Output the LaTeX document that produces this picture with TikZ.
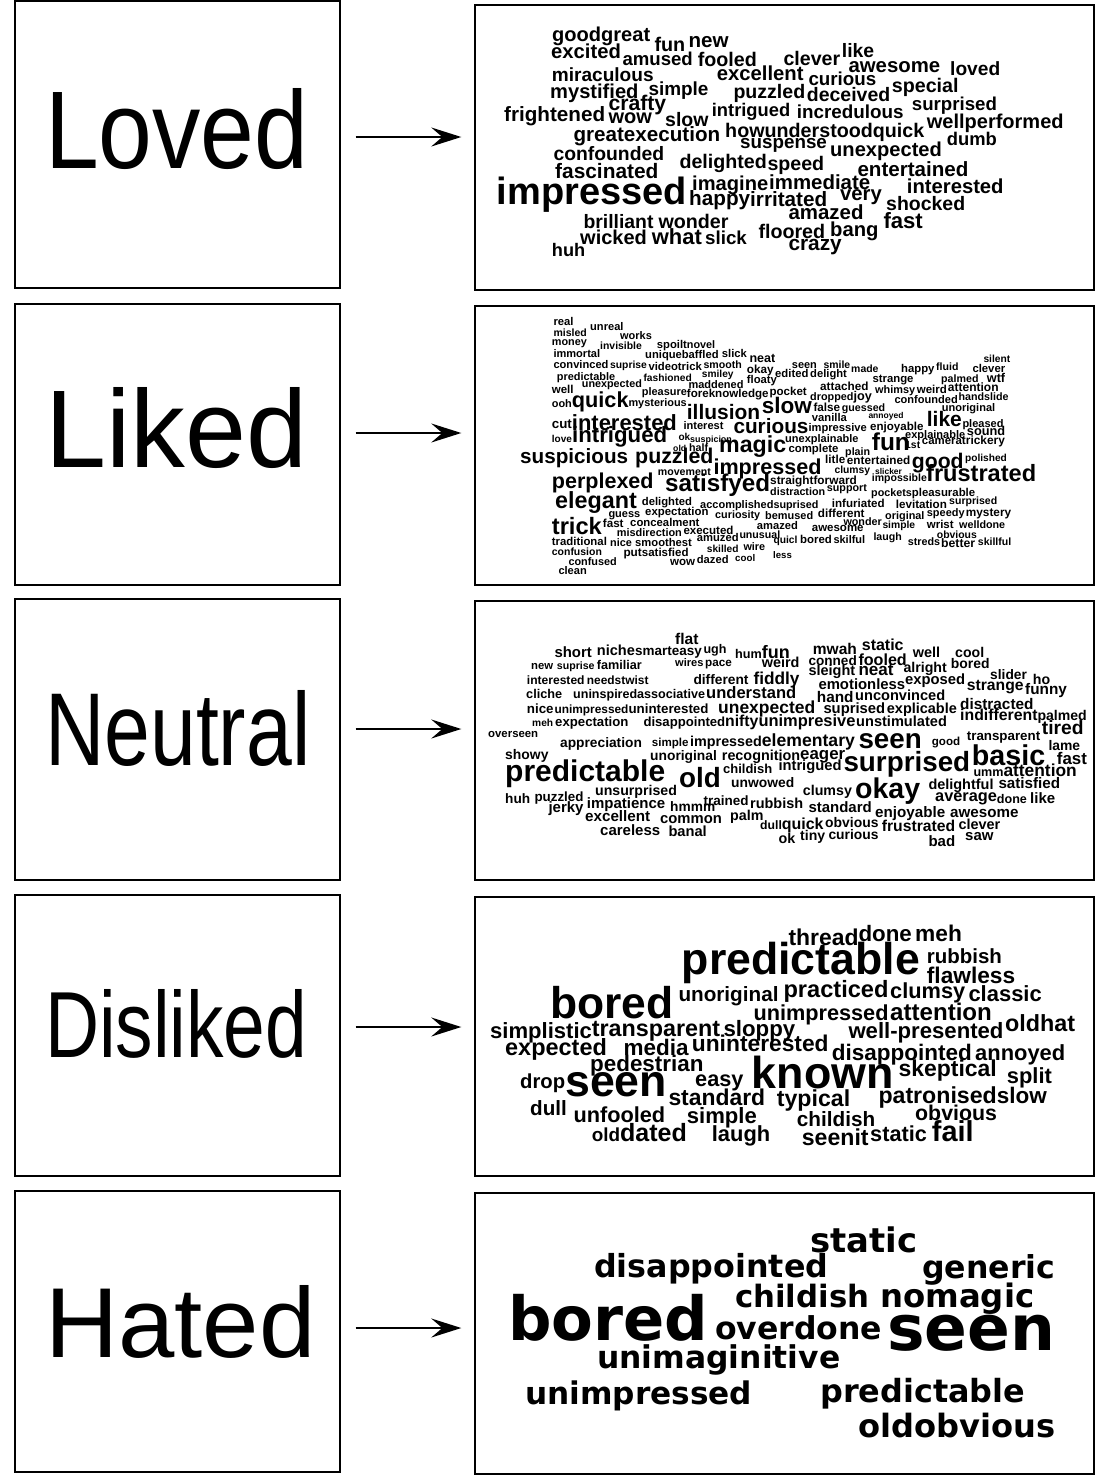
\documentclass[tikz,border=0pt]{standalone}
\usepackage{fontspec}
\setmainfont{Liberation Sans}
\newfontfamily\hatedfont{DejaVu Sans}
\usetikzlibrary{arrows.meta}

\begin{document}
\begin{tikzpicture}[
    x=1pt, y=-1pt,
    sidebox/.style={rectangle, draw, line width=1.4pt, minimum width=325pt, inner sep=0pt},
    cloudbox/.style={rectangle, draw, line width=1.4pt, minimum width=619pt, inner sep=0pt},
    sidelabel/.style={anchor=base west, inner sep=0pt},
    cloudword/.style={anchor=base west, inner sep=0pt, font=\bfseries},
    pointer/.style={-{Stealth[length=30pt, width=19pt, inset=11pt]}, line width=2pt, shorten <=15pt, shorten >=13pt}
]
\useasboundingbox (0,0) rectangle (1097,1478);
\fill[white] (0,0) rectangle (1097,1478);

% left boxes with the ratings
\node[sidebox, minimum height=287pt] (loved) at (177.5,144.5) {};
\node[sidebox, minimum height=281pt] (liked) at (177.5,444.5) {};
\node[sidebox, minimum height=281pt] (neutral) at (177.5,739.5) {};
\node[sidebox, minimum height=281pt] (disliked) at (177.5,1035.5) {};
\node[sidebox, minimum height=281pt] (hated) at (177.5,1331.5) {};

\node[sidelabel] (loved-label) at (45,168) {\resizebox{263pt}{80pt}{Loved}};
\node[sidelabel] (liked-label) at (45,467) {\resizebox{262pt}{80pt}{Liked}};
\node[sidelabel] (neutral-label) at (45,765) {\resizebox{265pt}{75pt}{Neutral}};
\node[sidelabel] (disliked-label) at (45,1057) {\resizebox{262pt}{68pt}{Disliked}};
\node[sidelabel] (hated-label) at (45,1357) {\resizebox{270pt}{72pt}{Hated}};

% right boxes with the word clouds
\node[cloudbox, minimum height=285pt] (lovedcloud) at (784.5,147.5) {};
\node[cloudbox, minimum height=279pt] (likedcloud) at (784.5,445.5) {};
\node[cloudbox, minimum height=279pt] (neutralcloud) at (784.5,740.5) {};
\node[cloudbox, minimum height=279pt] (dislikedcloud) at (784.5,1036.5) {};
\node[cloudbox, minimum height=281pt] (hatedcloud) at (784.5,1333.5) {};

% arrows
\foreach \src/\shift in {loved/7.5, liked/11.5, neutral/10.5, disliked/8.5, hated/3.5}
    \draw[pointer] ([yshift=\shift pt]\src.east) -- ([yshift=\shift pt]\src.east -| \src cloud.west);

% Loved
\foreach \x/\y/\wid/\word in {
    552/41.7/49/good, 601/41.7/49/great, 654.3/51.7/30.7/fun, 688.3/47.3/40/new,
    551/58.3/69.7/excited, 622.3/65/70.3/amused, 697.7/66.7/59/fooled, 783.3/65/56.7/clever,
    841.7/57.3/32.3/like, 848.3/72.3/91.7/awesome, 950/75/50/loved, 551.7/81.7/101.7/miraculous,
    716.7/80/86.7/excellent, 808.3/85/67.7/curious, 891.7/92.7/66.7/special, 550/98.3/88.3/mystified,
    648.3/95/60/simple, 733.3/98/71.7/puzzled, 806.7/101.7/83.3/deceived, 911.7/110.7/85/surprised,
    504/121.7/101/frightened, 608.3/110.7/57.7/crafty, 608.3/123.3/43.3/wow, 665/126/43.3/slow,
    711.7/116.7/78.3/intrigued, 796.7/118.3/106.7/incredulous, 926.7/128.3/136.7/wellperformed,
    573.3/141.7/146.7/greatexecution, 725/137.3/39.4/how, 764.4/137.3/108.3/understood, 872.7/137.3/51.4/quick,
    946.7/145/50/dumb, 740/148.3/86.7/suspense, 830/156.7/111.7/unexpected, 553.3/160/110.7/confounded,
    679.3/168.3/87.4/delighted, 767.3/170/56.7/speed, 857.3/176/111/entertained, 555/178.3/103.3/fascinated,
    692/190/76/imagine, 769/189/101/immediate, 906.7/193.3/96.7/interested, 496.7/204.3/190/impressed,
    689/205/61/happy, 750/206/77/irritated, 840/200/41.7/very, 886/210/79/shocked,
    788.3/219.3/75/amazed, 583.3/228.3/70/brilliant, 658.3/228.3/70/wonder, 883.3/228.3/39.3/fast,
    580/244/66.7/wicked, 651.7/244/50/what, 705/244/41.7/slick, 758.3/238.3/66.7/floored,
    830/236.7/48.3/bang, 788.3/250/53.3/crazy, 551.7/256.7/33.3/huh}
    \node[cloudword] (loved-\word) at (\x,\y) {\resizebox{\wid pt}{!}{\word}};

% Liked
\foreach \x/\y/\wid/\word in {
    553.3/325.3/20/real, 553.3/336/33.3/misled, 590/330.3/33.3/unreal, 551.7/345.3/35/money,
    620/339.7/31.7/works, 600/349.3/41.7/invisible, 656.7/348/30/spoilt, 686.7/348/28.3/novel,
    553.3/357/46.7/immortal, 645/358/36.7/unique, 681.7/358/36.7/baffled, 721.7/357/25/slick,
    749.3/362/25.7/neat, 553.3/368/55/convinced, 610/368/36.7/suprise, 648.3/370.3/53.3/videotrick,
    703.3/368/38.3/smooth, 746.7/373.7/26.7/okay, 775/377/33.3/edited, 556.7/380.3/58.3/predictable,
    643.3/381.3/48.3/fashioned, 701.7/377/31.7/smiley, 746.7/383.7/30/floaty, 581.7/387/60/unexpected,
    688.3/388/55/maddened, 551.7/393.7/21.7/well, 641.7/395.3/45/pleasure, 686.7/397/81.7/foreknowledge,
    769.3/395.3/37.3/pocket, 551.7/407/20/ooh, 571.7/407/56.7/quick, 628.3/406/58.3/mysterious,
    686.7/419.3/73.3/illusion, 761.7/413.7/50/slow, 551.7/428.7/20/cut, 571.7/430.3/105/interested,
    683.3/429.3/40/interest, 733.3/433.7/75/curious, 551.7/442.7/20/love, 572/442.7/95/intrigued,
    678.3/440.3/11.7/ok, 690/442/41.7/suspicion, 673/451.5/13/old, 689/451.5/19/half, 719/452/67/magic,
    983.3/362.7/26.7/silent, 791.7/368/25/seen, 823.3/368/26.7/smile, 851/372.7/27.3/made,
    901/372/33.3/happy, 936/370.3/22.3/fluid, 972.3/372/32.7/clever, 810/377/36.7/delight,
    872.3/382/41/strange, 941/382/37.3/palmed, 986.7/382/18.3/wtf, 820/390.3/48.3/attached,
    875/393.7/40/whimsy, 916.7/393.7/30/weird, 947.7/391.3/50.7/attention, 810/400.3/43.3/dropped,
    853.3/400.3/18.3/joy, 894.3/403.7/63.3/confounded, 958.3/400.3/50/handslide, 813.3/411.3/26.7/false,
    841.7/411.3/43.3/guessed, 941.7/411.3/53.3/unoriginal, 811.7/421.3/35/vanilla, 868.3/418/35/annoyed,
    926.7/426/35/like, 962.3/427/41/pleased, 808.3/431.3/58.3/impressive, 870/430.3/53.3/enjoyable,
    905/438/60/explainable, 966.7/435.3/38.3/sound, 785/442/73.3/unexplainable, 871.7/450/38/fun,
    905/448.7/15/1st, 921.7/444.7/40/camera, 961.7/444.7/43/trickery, 788.3/452.3/50/complete,
    845/455/25/plain, 825/463.3/20/litle, 846.7/464.3/63.3/entertained, 911.7/468.3/51.7/good,
    965/461.7/41.7/polished, 834.3/473.3/35.7/clumsy, 875/474.3/26.7/slicker, 871.7/481.7/55/impossible,
    926/481/110/frustrated, 520/463.3/108/suspicious, 635/463.3/78.3/puzzled, 657.7/475.5/53/movement,
    713.3/474/108/impressed, 551.7/488.3/101.7/perplexed, 665/491.7/105/satisfyed,
    770/484.3/86.7/straightforward, 770/495/55/distraction, 826.7/491.7/40/support, 871/496.7/40.7/pockets,
    911.7/496.7/63.3/pleasurable, 555/508.3/81.7/elegant, 641.7/505/50/delighted, 700/508.3/73.3/accomplished,
    773.3/508.3/45/suprised, 831.7/507.7/52.7/infuriated, 895.7/508.3/51/levitation, 949/504.3/48/surprised,
    608.3/517.7/31.7/guess, 645/515.7/63.3/expectation, 715/518.3/45/curiosity, 765/519/48/bemused,
    817.7/517.7/46.7/different, 885/519/39.3/original, 926.7/516.7/37.7/speedy, 965.7/516.7/45.3/mystery,
    551.7/534.3/50/trick, 602.7/527.7/20.7/fast, 630/526.7/69.3/concealment, 756.7/529/41/amazed,
    811.7/531.7/51.7/awesome, 843.3/525/38.3/wonder, 882.3/528.3/32.7/simple, 926.7/528.3/26.7/wrist,
    959/528.3/46/welldone, 616.7/536.7/65/misdirection, 683.3/534.3/50/executed, 739.3/538.3/40.7/unusual,
    551.7/545/55/traditional, 610/546.7/21.7/nice, 635/546.7/56.7/smoothest, 696.7/541.7/41.7/amuzed,
    773.3/543.3/24/quicl, 800/543.3/31.7/bored, 833.3/543.3/31.7/skilful, 873.3/540/28.3/laugh,
    936.7/538.3/40/obvious, 907.7/545.7/32.3/streds, 941/547.7/34/better, 977.7/545/33.3/skillful,
    551.7/555.7/50/confusion, 623.3/556.7/18.3/put, 641.7/556.7/46.7/satisfied, 706.7/552.3/31.7/skilled,
    743.3/550/21.7/wire, 773/558.3/18.7/less, 568.3/565.7/48.3/confused, 670/565.7/25/wow,
    696.7/563.3/31.7/dazed, 735/561.7/20/cool, 558.3/574.3/28.3/clean}
    \node[cloudword] (liked-\word) at (\x,\y) {\resizebox{\wid pt}{!}{\word}};

% Neutral
\foreach \x/\y/\wid/\word in {
    675/644/23.3/flat, 554.3/657/37.3/short, 596.7/655/38/niche, 635/655/36.7/smart,
    671.7/655/30/easy, 703.3/653/23/ugh, 735/658/26.7/hum, 761.7/658/28/fun,
    812.7/654/44/mwah, 861.7/650/41.7/static, 912.7/657/27.3/well, 955/657/29/cool,
    531/669/22/new, 556.7/669/37.7/suprise, 596.7/669/45/familiar, 675/666/28.3/wires,
    705/666/26.7/pace, 761.7/667/37.6/weird, 808.3/665/48.3/conned, 858.3/665/48.3/fooled,
    950.7/668/38.7/bored, 526.7/684/57.7/interested, 586.7/684/34.4/needs, 621.1/684/27.2/twist,
    693.3/684/55/different, 753.3/684/46/fiddly, 808.3/675/46.7/sleight, 858.3/675/35/neat,
    903.3/672/43.3/alright, 990/679/36.7/slider, 1032.7/684/17.3/ho, 526/698/36/cliche,
    573/698/64/uninspired, 637/698/68/associative, 706/698/90/understand, 818.3/689/86.7/emotionless,
    905/684/60/exposed, 966.7/690/56.7/strange, 1025/694/41.7/funny, 816.7/702/36.7/hand,
    855/700/90/unconvinced, 960/709/73.3/distracted, 526.7/713/26.7/nice, 554.3/713/74/unimpressed,
    628.3/713/80/uninterested, 718/713/97/unexpected, 823.3/713/61.7/suprised, 886.7/713/70/explicable,
    532/726/21/meh, 555/726/73.3/expectation, 643.3/726/81.7/disappointed, 725/726/33.3/nifty,
    758.3/726/97/unimpresive, 856/726/90.7/unstimulated, 960/720/77.3/indifferent, 1037.3/720/49.3/palmed,
    488/737/50/overseen, 560/747/81.7/appreciation, 651.7/746/36.7/simple, 690/746/71.7/impressed,
    761.7/746/93/elementary, 858.3/748/63.3/seen, 931.7/745/28.3/good, 966.7/740/73.3/transparent,
    1041.7/734/41.7/tired, 505/759/43.3/showy, 505/781/160/predictable, 650/760/66.7/unoriginal,
    721.7/760/78.3/recognition, 800/759/45/eager, 679/787/41.7/old, 723/773.5/49/childish,
    778.3/770.5/63/intrigued, 731/787/63/unwowed, 843.3/771/126.7/surprised, 971.7/765/73.3/basic,
    1048.3/750/31.7/lame, 1056.7/764/30/fast, 973.3/776/30/umm, 1003.3/776/73.3/attention,
    505/803.3/25/huh, 534.3/801/49/puzzled, 595/795/81.7/unsurprised, 548.3/812/35/jerky,
    586.7/808.3/78.3/impatience, 703.3/805/45/trained, 750/808.3/53/rubbish, 670/811.7/45/hmmm,
    585/821.7/65/excellent, 660/823.3/61.7/common, 730/820/33.3/palm, 600/835/60/careless,
    668.3/836.7/38.3/banal, 760/829/21.7/dull, 781.7/829/41.7/quick, 778.3/843.3/16.7/ok,
    800/840/25/tiny, 828.3/839.3/50/curious, 855/798.3/65/okay, 802.7/795/49/clumsy,
    928.3/789.3/65/delightful, 998.3/788.3/61.7/satisfied, 935/801.7/61.7/average, 996.7/803.3/30/done,
    1030/803.3/25/like, 808.3/812.7/63.3/standard, 875/817.3/70/enjoyable, 950/817.3/68.3/awesome,
    825/827.3/53.3/obvious, 881.7/831.7/73.3/frustrated, 958.3/829.3/41.7/clever, 965/840/28.3/saw,
    928.3/846.7/26.7/bad}
    \node[cloudword] (neutral-\word) at (\x,\y) {\resizebox{\wid pt}{!}{\word}};

% Disliked
\foreach \x/\y/\wid/\word in {
    681.7/974/238/predictable, 550/1018.3/123.3/bored, 678.3/1001.7/100/unoriginal, 783.3/997/105/practiced,
    890/998.3/75/clumsy, 788.3/945/70/thread, 858.3/941.7/53.3/done, 915/941.7/46.7/meh,
    926.7/963.3/75/rubbish, 926.7/983.3/88.3/flawless, 968.3/1001.7/73.3/classic, 753.3/1020/135/unimpressed,
    890/1020/101.7/attention, 490/1038.3/101.7/simplistic, 591.7/1036.7/128.3/transparent, 723.3/1036.7/71.7/sloppy,
    848.3/1038.3/155/well-presented, 1005/1031.7/70/oldhat, 505/1055/101.7/expected, 623.3/1055/65/media,
    691.7/1051.7/136.7/uninterested, 831.7/1060/140/disappointed, 975/1060/90/annoyed, 590/1071.7/113.3/pedestrian,
    520/1088.3/45/drop, 565/1096.7/101.7/seen, 695/1086.7/48.3/easy, 751.7/1088.3/141.7/known,
    898.3/1076.7/98.3/skeptical, 1006.7/1083.3/45/split, 668.3/1105/96.7/standard, 776.7/1106.7/73.3/typical,
    878.3/1103.3/118.3/patronised, 996.7/1103.3/50/slow, 530/1115/36.7/dull, 573.3/1122.7/91.7/unfooled,
    686.7/1123.3/70/simple, 796.7/1126.7/78.3/childish, 915/1120/81.7/obvious, 591.7/1141.7/28.3/old,
    620/1141.7/66.7/dated, 711.7/1141.7/58.3/laugh, 801.7/1145/66.7/seenit, 870/1141.7/56.7/static,
    931.7/1141.7/41.7/fail}
    \node[cloudword] (disliked-\word) at (\x,\y) {\resizebox{\wid pt}{!}{\word}};

% Hated
\foreach \x/\y/\wid/\word in {
    810/1252/107/static, 594/1277/234/disappointed, 922/1278/133/generic, 735/1307/134/childish,
    880/1307/154/nomagic, 508/1340/200/bored, 715/1339/167/overdone, 887/1350/168/seen,
    597/1368/243/unimaginitive, 525/1404/227/unimpressed, 820/1402/205/predictable, 858/1437/56/old,
    914/1437/141/obvious}
    \node[cloudword, font=\hatedfont\bfseries] (hated-\word) at (\x,\y) {\resizebox{\wid pt}{!}{\word}};

\end{tikzpicture}
\end{document}
